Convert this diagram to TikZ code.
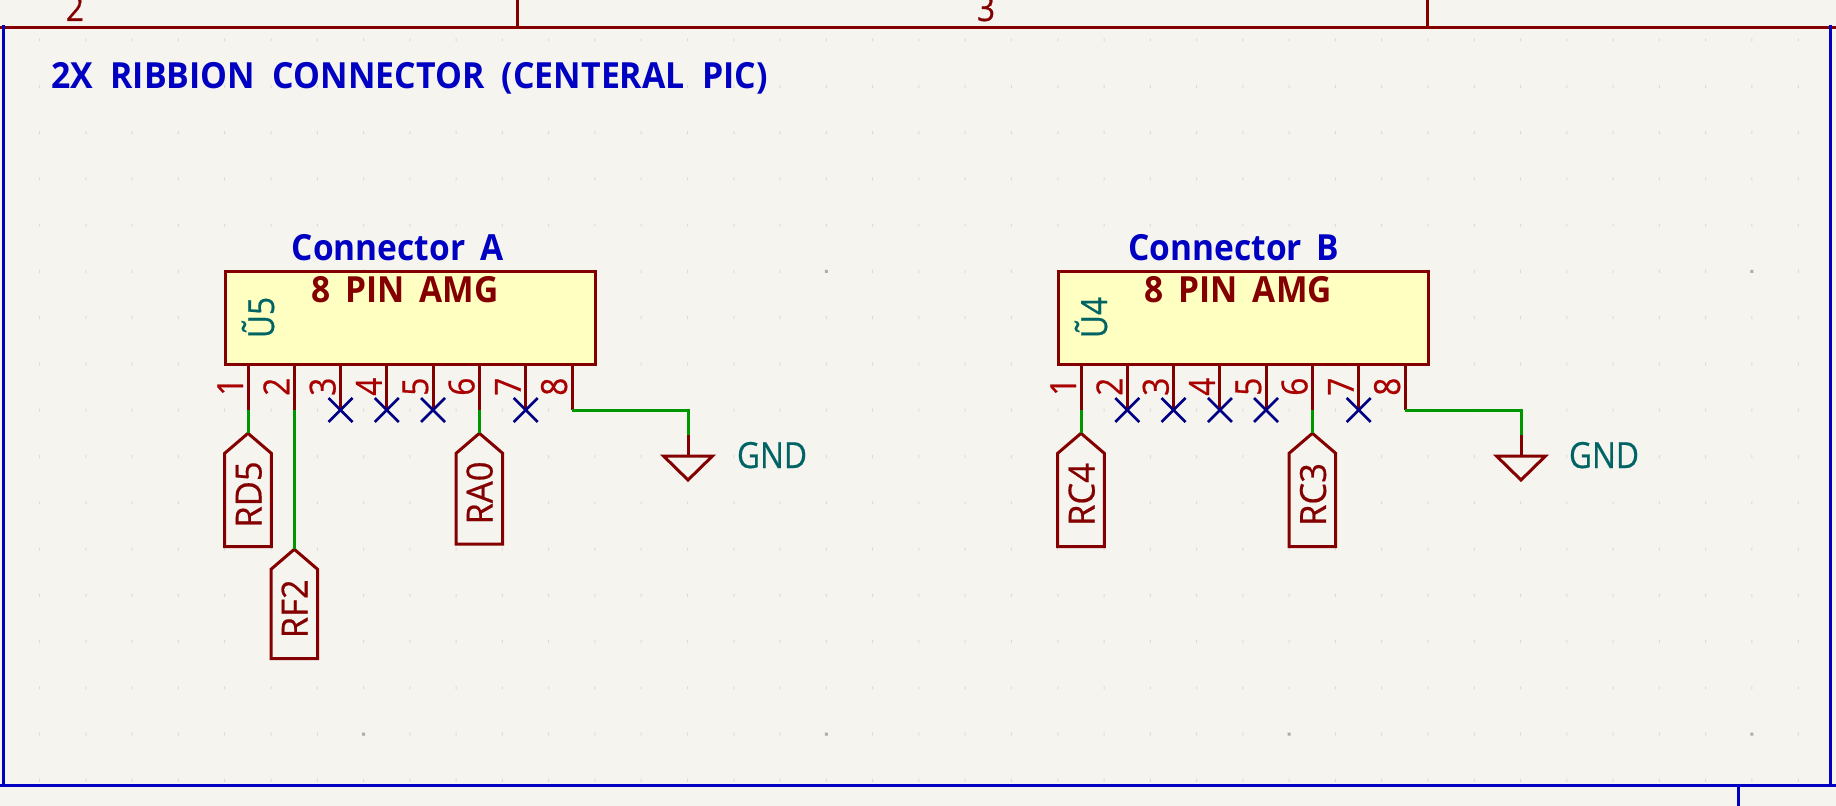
\documentclass[tikz,border=0pt]{standalone}
\usepackage{fontspec}
\setmainfont[FakeStretch=0.88,WordSpace=1.7,UprightFeatures={FakeBold=0.5},BoldFeatures={FakeStretch=0.93}]{Open Sans}
\newfontfamily\titlefont[WordSpace=2,BoldFeatures={FakeStretch=0.94}]{Open Sans}
\definecolor{sheetbg}{RGB}{245,244,239}
\definecolor{symred}{RGB}{132,0,0}
\definecolor{pinred}{RGB}{169,0,0}
\definecolor{wiregreen}{RGB}{0,150,0}
\definecolor{noteblue}{RGB}{0,0,194}
\definecolor{ncblue}{RGB}{0,0,132}
\definecolor{refteal}{RGB}{0,100,100}
\definecolor{bodyyellow}{RGB}{255,255,194}
\tikzset{
  symline/.style={draw=symred,line width=2.25pt,line join=miter},
  wire/.style={draw=wiregreen,line width=2.25pt},
  ncmark/.style={draw=ncblue,line width=2pt},
  edge/.style={line width=2.25pt},
  txt/.style={inner sep=0pt,anchor=base,font=\fontsize{27}{30}\selectfont},
  pinnum/.style={txt,rotate=90,text=pinred},
  netlabel/.style={txt,rotate=90,text=symred,font=\fontsize{27}{30}\selectfont\addfontfeature{FakeStretch=0.96}},
  reflabel/.style={txt,text=refteal},
  notetxt/.style={txt,text=noteblue,font=\fontsize{27}{30}\selectfont\bfseries},
  titletxt/.style={notetxt,font=\fontsize{27}{30}\titlefont\bfseries},
  valuetxt/.style={txt,text=symred,font=\fontsize{27}{30}\selectfont\bfseries}
}

\begin{document}
\begin{tikzpicture}[x=0.75pt,y=0.75pt,yscale=-1,xscale=1]
\useasboundingbox (0,0) rectangle (1836,806);
\fill [sheetbg] (0,0) rectangle (1836,806);

%Grid dots
\fill [black!14] \foreach \i in {0,...,38} { \foreach \j in {0,...,16} {
  ({39.1+46.28*\i},{38.5+46.28*\j}) rectangle ++(1,3) } };
\fill [black!32] \foreach \i in {7,17,27,37} { \foreach \j in {5,15} {
  ({38.1+46.28*\i},{38.5+46.28*\j}) rectangle ++(3,3) } };

%Sheet edges
\draw [edge,symred] (0,27.3) -- (1836,27.3) ;
\draw [edge,symred] (517.5,0) -- (517.5,27.3) ;
\draw [edge,symred] (1427.5,0) -- (1427.5,27.3) ;
\draw [edge,noteblue] (3,25) -- (3,785) ;
\draw [edge,noteblue] (1830.4,25) -- (1830.4,785) ;
\draw [edge,noteblue] (0,785) -- (1836,785) ;
\draw [edge,noteblue] (1738,785) -- (1738,806) ;

% Text Node
\node (sheetTwo) at (75,21) [txt,text=symred] {2};
\node (sheetThree) at (986,21) [txt,text=symred] {3};
\node (title) at (409.5,89) [titletxt] {2X RIBBION CONNECTOR (CENTERAL PIC)};

%Connector A
\draw [symline,fill=bodyyellow] (225.3,271.7) rectangle (595.6,364.7) ;
\node (nameA) at (397.5,260.7) [notetxt] {Connector A};
\node (valueA) at (405,302.7) [valuetxt] {8 PIN AMG};
\node (refA) at (274,317.5) [reflabel,rotate=90] {Ũ5};
\foreach \n/\px in {1/248,2/294.3,3/340.5,4/386.8,5/433.1,6/479.4,7/525.7,8/572} {
  \coordinate (A\n) at (\px,364.7);
  \coordinate (A\n-end) at (\px,410);
  \draw [symline] (A\n) -- (A\n-end) ;
  \node (numA\n) at (\px-5,386.7) [pinnum] {\n};
}
\foreach \n in {3,4,5,7} {
  \draw [ncmark] ([shift={(-12,-12)}]A\n-end) -- ([shift={(12,12)}]A\n-end) ;
  \draw [ncmark] ([shift={(-12,12)}]A\n-end) -- ([shift={(12,-12)}]A\n-end) ;
}

%Labels of connector A
\coordinate (tipRD) at (248,433.3);
\coordinate (tipRF) at (294.3,549.3);
\coordinate (tipRA) at (479.4,433.3);
\draw [symline] (tipRD) -- ++(-23.3,20) -- ++(0,93.4) -- ++(46.6,0) -- ++(0,-93.4) -- cycle ;
\draw [symline] (tipRF) -- ++(-23.3,20) -- ++(0,89.4) -- ++(46.6,0) -- ++(0,-89.4) -- cycle ;
\draw [symline] (tipRA) -- ++(-23.3,20) -- ++(0,90.7) -- ++(46.6,0) -- ++(0,-90.7) -- cycle ;
\node (RD5) at (261.5,494.5) [netlabel] {RD5};
\node (RF2) at (307.5,608.8) [netlabel] {RF2};
\node (RA0) at (492.5,493) [netlabel] {RA0};
\draw [wire] (A1-end) -- (tipRD) ;
\draw [wire] (A2-end) -- (tipRF) ;
\draw [wire] (A6-end) -- (tipRA) ;

%Ground of connector A
\coordinate (stemA) at (688,435);
\coordinate (topA) at (688,456);
\draw [wire] (A8-end) -- (688,410) -- (stemA) ;
\draw [symline] (stemA) -- (topA) ;
\draw [symline] (663.5,456) -- (712.5,456) -- (688,480) -- cycle ;
\node (gndA) at (772,468) [reflabel] {GND};

%Connector B
\draw [symline,fill=bodyyellow] (1058.4,271.7) rectangle (1428.6,364.7) ;
\node (nameB) at (1234,260.7) [notetxt] {Connector B};
\node (valueB) at (1238.4,302.7) [valuetxt] {8 PIN AMG};
\node (refB) at (1107,317.5) [reflabel,rotate=90] {Ũ4};
\foreach \n/\px in {1/1081,2/1127.3,3/1173.6,4/1219.9,5/1266.1,6/1312.4,7/1358.7,8/1405} {
  \coordinate (B\n) at (\px,364.7);
  \coordinate (B\n-end) at (\px,410);
  \draw [symline] (B\n) -- (B\n-end) ;
  \node (numB\n) at (\px-5,386.7) [pinnum] {\n};
}
\foreach \n in {2,3,4,5,7} {
  \draw [ncmark] ([shift={(-12,-12)}]B\n-end) -- ([shift={(12,12)}]B\n-end) ;
  \draw [ncmark] ([shift={(-12,12)}]B\n-end) -- ([shift={(12,-12)}]B\n-end) ;
}

%Labels of connector B
\coordinate (tipRCa) at (1081,433.3);
\coordinate (tipRCb) at (1312.4,433.3);
\draw [symline] (tipRCa) -- ++(-23.3,20) -- ++(0,93.4) -- ++(46.6,0) -- ++(0,-93.4) -- cycle ;
\draw [symline] (tipRCb) -- ++(-23.3,20) -- ++(0,93.4) -- ++(46.6,0) -- ++(0,-93.4) -- cycle ;
\node (RC4) at (1094.5,494.5) [netlabel] {RC4};
\node (RC3) at (1325.9,494.5) [netlabel] {RC3};
\draw [wire] (B1-end) -- (tipRCa) ;
\draw [wire] (B6-end) -- (tipRCb) ;

%Ground of connector B
\coordinate (stemB) at (1521,435);
\coordinate (topB) at (1521,456);
\draw [wire] (B8-end) -- (1521,410) -- (stemB) ;
\draw [symline] (stemB) -- (topB) ;
\draw [symline] (1496.5,456) -- (1545.5,456) -- (1521,480) -- cycle ;
\node (gndB) at (1604,468) [reflabel] {GND};

\end{tikzpicture}
\end{document}
